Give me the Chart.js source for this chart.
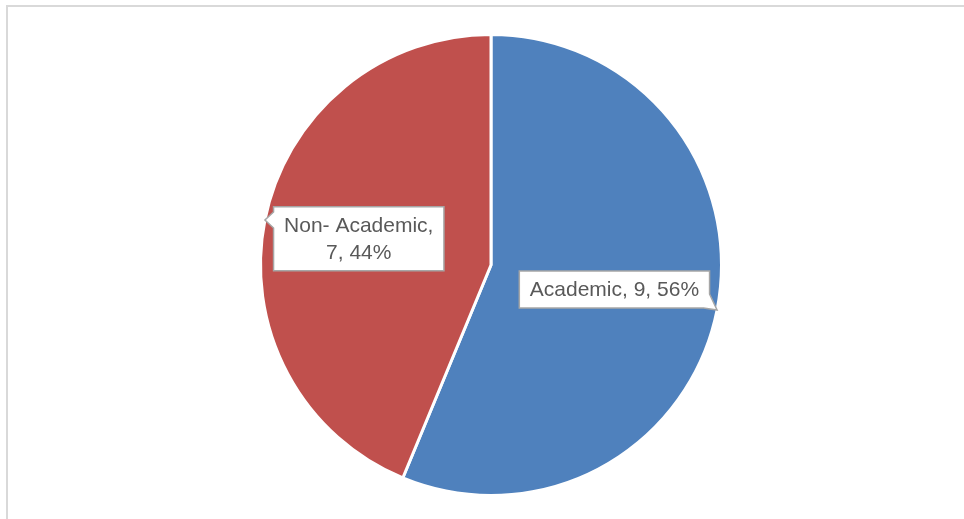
<!DOCTYPE html>
<html>
<head>
<meta charset="utf-8">
<title>Academic vs Non-Academic</title>
<script src="https://cdn.jsdelivr.net/npm/chart.js@4.4.1/dist/chart.umd.min.js"></script>
<style>
  html, body { margin: 0; padding: 0; background: #ffffff; }
  #wrap { position: relative; width: 964px; height: 519px; }
</style>
</head>
<body>
<div id="wrap"><canvas id="chart"></canvas></div>
<script>
// Categories and counts
const categories = ['Academic', 'Non- Academic'];
const counts = [9, 7];
const sliceColors = ['#4F81BD', '#C0504D'];

// Light grey frame around the chart area
const framePlugin = {
  id: 'frame',
  beforeDraw(chart) {
    const ctx = chart.ctx;
    ctx.save();
    ctx.fillStyle = '#ffffff';
    ctx.fillRect(0, 0, chart.width, chart.height);
    ctx.strokeStyle = '#d9d9d9';
    ctx.lineWidth = 2;
    ctx.strokeRect(7, 6, chart.width + 20, chart.height + 20);
    ctx.restore();
  }
};

// Callout-style data labels: "Category, value, percent" in a boxed shape with a pointer
const calloutPlugin = {
  id: 'callouts',
  afterDatasetsDraw(chart, args, opts) {
    const ctx = chart.ctx;
    const meta = chart.getDatasetMeta(0);
    const data = chart.data.datasets[0].data;
    const total = data.reduce((a, b) => a + b, 0);
    ctx.save();
    ctx.font = opts.font;
    meta.data.forEach((arc, i) => {
      const p = arc.getProps(['x', 'y', 'startAngle', 'endAngle', 'outerRadius'], true);
      const mid = (p.startAngle + p.endAngle) / 2;
      const pct = Math.round(data[i] / total * 100) + '%';
      const lines = opts.lines[i](chart.data.labels[i], data[i], pct);
      const w = Math.max(...lines.map(l => ctx.measureText(l).width)) + opts.padX * 2;
      const h = lines.length * opts.lineHeight + opts.padY * 2;
      const k = opts.distance[i];
      const cx = p.x + Math.cos(mid) * p.outerRadius * k;
      const cy = p.y + Math.sin(mid) * p.outerRadius * k;
      const L = cx - w / 2, R = cx + w / 2, T = cy - h / 2, B = cy + h / 2;
      const tip = { x: p.x + Math.cos(mid) * p.outerRadius, y: p.y + Math.sin(mid) * p.outerRadius };

      const dx = tip.x < L ? -1 : (tip.x > R ? 1 : 0);
      const dy = tip.y < T ? -1 : (tip.y > B ? 1 : 0);
      const hw = 8;
      const clampY = v => Math.min(Math.max(v, T + hw + 1), B - hw - 1);
      const clampX = v => Math.min(Math.max(v, L + hw + 1), R - hw - 1);
      // corners in clockwise order, each with optional replacement points
      let TL = [[L, T]], TR = [[R, T]], BR = [[R, B]], BL = [[L, B]];
      let top = [], right = [], bottom = [], left = [];
      if (dx === -1 && dy === 0) { const ty = clampY(tip.y); left = [[L, ty + hw], [tip.x, tip.y], [L, ty - hw]]; }
      else if (dx === 1 && dy === 0) { const ty = clampY(tip.y); right = [[R, ty - hw], [tip.x, tip.y], [R, ty + hw]]; }
      else if (dx === 0 && dy === 1) { const tx = clampX(tip.x); bottom = [[tx + hw, B], [tip.x, tip.y], [tx - hw, B]]; }
      else if (dx === 0 && dy === -1) { const tx = clampX(tip.x); top = [[tx - hw, T], [tip.x, tip.y], [tx + hw, T]]; }
      else if (dx === 1 && dy === 1) { BR = [[R, B - 14], [tip.x, tip.y], [R - 6, B]]; }
      else if (dx === -1 && dy === 1) { BL = [[L + 6, B], [tip.x, tip.y], [L, B - 14]]; }
      else if (dx === 1 && dy === -1) { TR = [[R - 6, T], [tip.x, tip.y], [R, T + 14]]; }
      else if (dx === -1 && dy === -1) { TL = [[L, T + 14], [tip.x, tip.y], [L + 6, T]]; }
      const pts = [...TL, ...top, ...TR, ...right, ...BR, ...bottom, ...BL, ...left];

      ctx.beginPath();
      pts.forEach((pt, j) => j ? ctx.lineTo(pt[0], pt[1]) : ctx.moveTo(pt[0], pt[1]));
      ctx.closePath();
      ctx.fillStyle = '#ffffff';
      ctx.fill();
      ctx.strokeStyle = opts.borderColor;
      ctx.lineWidth = 1.5;
      ctx.stroke();

      ctx.fillStyle = opts.color;
      ctx.textAlign = 'center';
      ctx.textBaseline = 'middle';
      lines.forEach((line, j) => {
        ctx.fillText(line, cx, T + opts.padY + opts.lineHeight * (j + 0.5) + 1);
      });
    });
    ctx.restore();
  }
};

new Chart(document.getElementById('chart'), {
  type: 'pie',
  data: {
    labels: categories,
    datasets: [{
      data: counts,
      backgroundColor: sliceColors,
      borderColor: '#ffffff',
      borderWidth: 3
    }]
  },
  options: {
    responsive: true,
    maintainAspectRatio: false,
    animation: false,
    layout: { padding: { top: 33, bottom: 22, left: 18, right: 0 } },
    plugins: {
      legend: { display: false },
      tooltip: { enabled: false },
      callouts: {
        font: '21px "Liberation Sans", Arial, sans-serif',
        color: '#595959',
        borderColor: '#a6a6a6',
        padX: 10.5,
        padY: 5,
        lineHeight: 27,
        distance: [0.546, 0.585],
        lines: [
          (name, v, pct) => [name + ', ' + v + ', ' + pct],
          (name, v, pct) => [name + ',', v + ', ' + pct]
        ]
      }
    }
  },
  plugins: [framePlugin, calloutPlugin]
});
</script>
</body>
</html>
